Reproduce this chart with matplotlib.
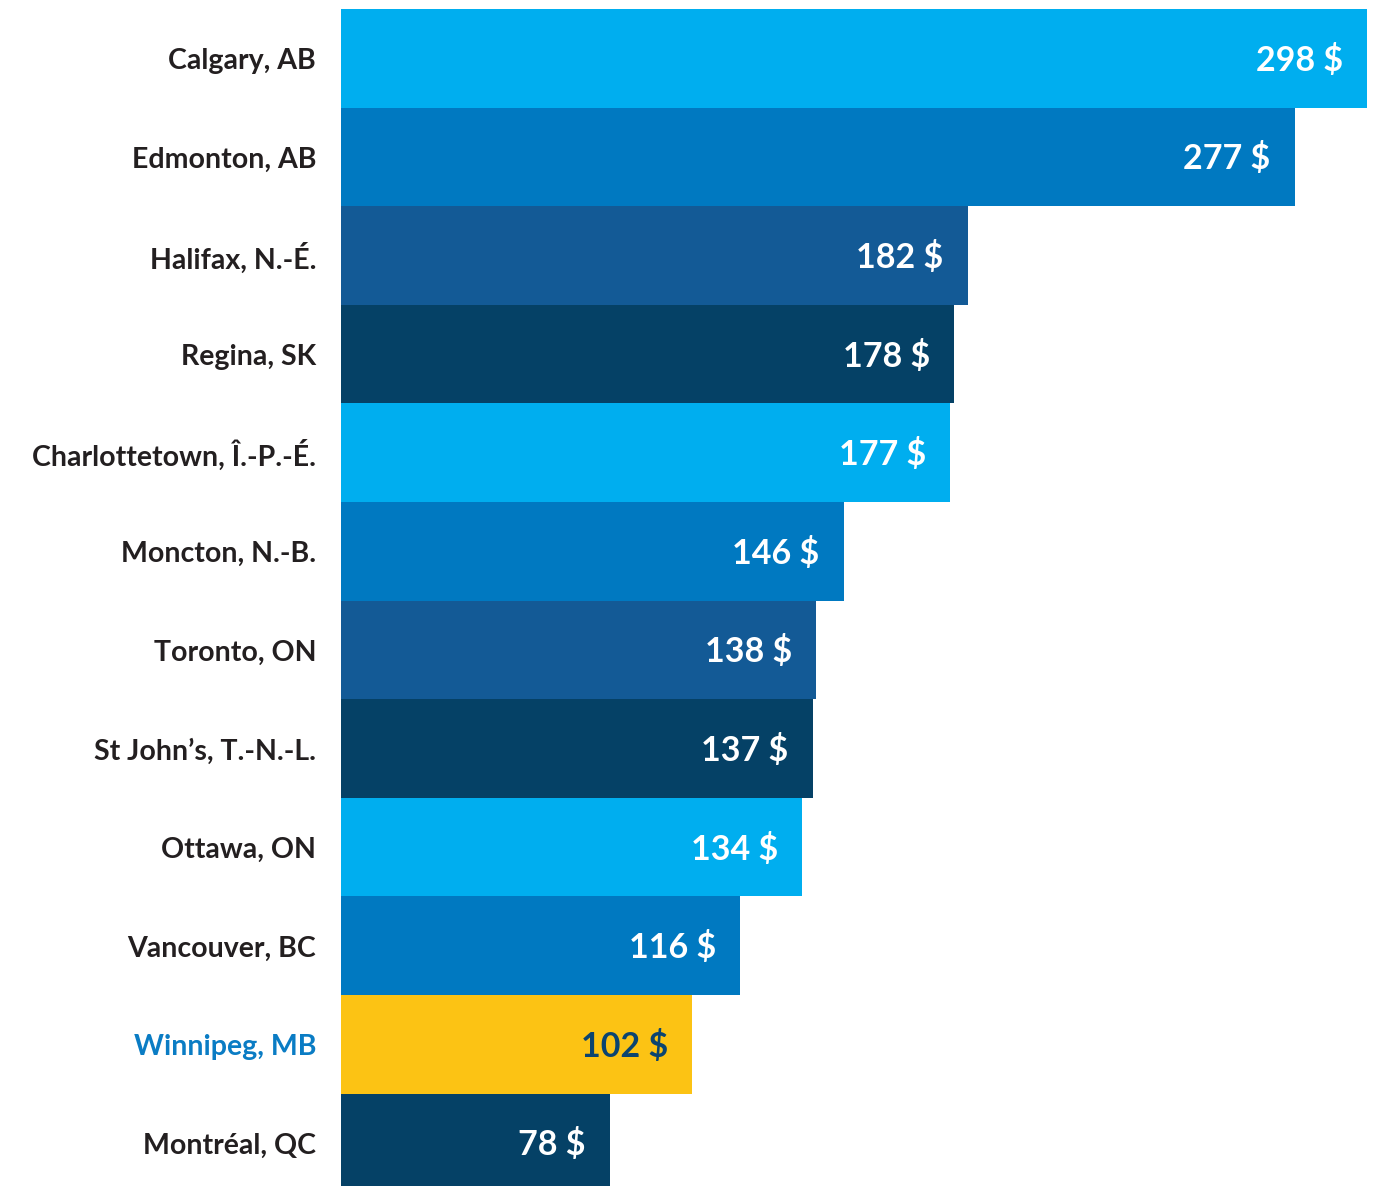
import matplotlib.pyplot as plt

cities = ['Calgary, AB', 'Edmonton, AB', 'Halifax, N.-É.', 'Regina, SK',
          'Charlottetown, Î.-P.-É.', 'Moncton, N.-B.', 'Toronto, ON',
          'St John’s, T.-N.-L.', 'Ottawa, ON', 'Vancouver, BC',
          'Winnipeg, MB', 'Montréal, QC']
values = [298, 277, 182, 178, 177, 146, 138, 137, 134, 116, 102, 78]

LIGHT = '#00AEEF'
MID = '#0079C1'
DARK = '#135A96'
NAVY = '#054166'
YELLOW = '#FCC314'
colors = [LIGHT, MID, DARK, NAVY, LIGHT, MID, DARK, NAVY, LIGHT, MID, YELLOW, NAVY]

plt.rcParams['font.family'] = ['Lato', 'DejaVu Sans']

fig = plt.figure(figsize=(13.82, 11.86), dpi=100)
# bars are ~98.6 px tall, the last one runs past the bottom edge
ax_h = 12 * 98.6
ax = fig.add_axes([341 / 1382, (1186 - 9 - ax_h) / 1186, 1026 / 1382, ax_h / 1186])

y = list(range(len(cities)))
ax.barh(y, values, height=1.0, color=colors, linewidth=0)
ax.set_ylim(len(cities) - 0.5, -0.5)
ax.set_xlim(0, max(values))
ax.axis('off')

for i, (c, v) in enumerate(zip(cities, values)):
    highlight = c.startswith('Winnipeg')
    ax.annotate(c, xy=(0, i), xytext=(-25, -3), textcoords='offset pixels',
                ha='right', va='center', fontsize=20.5, fontweight='bold',
                color='#0A7CC4' if highlight else '#231F20')
    ax.annotate(f'{v} $', xy=(v, i), xytext=(-24, -2), textcoords='offset pixels',
                ha='right', va='center', fontsize=24.5, fontweight='bold',
                color='#0B4470' if highlight else 'white')

fig.savefig('out.png', dpi=100)
